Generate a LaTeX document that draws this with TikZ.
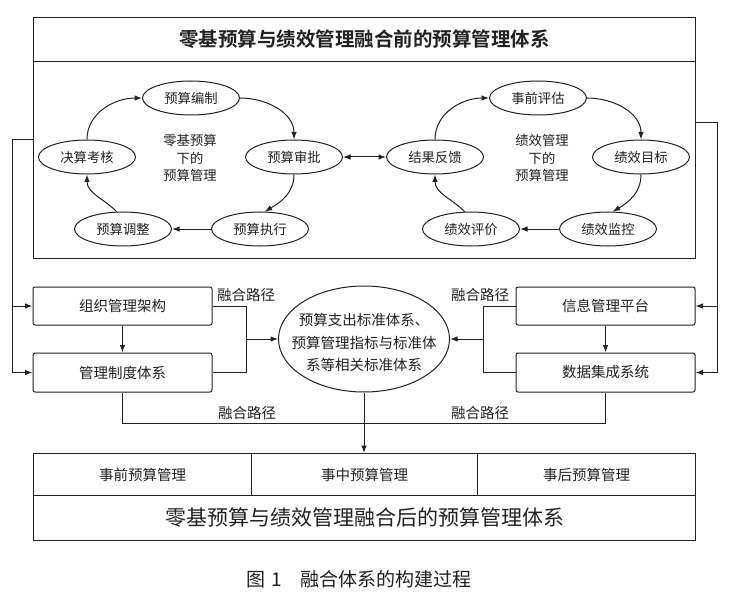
\documentclass[tikz,border=0pt]{standalone}
\usepackage{fontspec}
\setmainfont{Noto Sans CJK SC}[BoldFont={Noto Sans CJK SC Bold}]
\usetikzlibrary{shapes.geometric,arrows.meta,calc}
\definecolor{ink}{HTML}{222222}
\tikzset{
  x=1pt,y=-1pt,
  every node/.style={text=ink},
  ln/.style={draw=ink,line width=1pt},
  arr/.style={ln,-{Latex[length=7.5pt,width=5.5pt]}},
  darr/.style={ln,{Latex[length=7.5pt,width=5.5pt]}-{Latex[length=7.5pt,width=5.5pt]}},
  cyc/.style={ellipse,draw=ink,line width=1pt,minimum width=97pt,minimum height=34pt,inner sep=0pt,font=\fontsize{13.3}{16}\selectfont},
  mid/.style={align=center,font=\fontsize{13.3}{17.5}\selectfont},
  boxn/.style={draw=ink,line width=1pt,rounded corners=2pt,minimum width=179pt,minimum height=38pt,inner sep=0pt,font=\fontsize{14.5}{17}\selectfont},
  cell/.style={draw=ink,line width=1pt,minimum height=42pt,inner sep=0pt,anchor=north west,font=\fontsize{14.5}{17}\selectfont},
  lbl/.style={font=\fontsize{14.5}{17}\selectfont,inner sep=0pt},
}
\begin{document}
\begin{tikzpicture}
\useasboundingbox[fill=white] (0,0) rectangle (736,596);
% top frame
\node[draw=ink,line width=1pt,minimum width=662pt,minimum height=44pt,inner sep=0pt,anchor=north west,font=\fontsize{19.5}{22}\selectfont\bfseries] (toptitle) at (33,17) {零基预算与绩效管理融合前的预算管理体系};
\node[draw=ink,line width=1pt,minimum width=662pt,minimum height=197pt,inner sep=0pt,anchor=north west] (topbody) at (33,61) {};
% left cycle
\node[cyc] (bz) at (191,98) {预算编制};
\node[cyc] (sp) at (294,157) {预算审批};
\node[cyc] (zx) at (260,229) {预算执行};
\node[cyc] (tz) at (123,229) {预算调整};
\node[cyc] (kh) at (87,157) {决算考核};
\node[mid] (lc) at (190,158) {零基预算\\下的\\预算管理};
\draw[arr] (bz.east) to[out=0,in=90] (sp.north);
\draw[arr] (sp.south) to[out=-90,in=30] (zx.75);
\draw[arr] (zx.west) -- (tz.east);
\draw[arr] (tz.110) to[out=135,in=-90] (kh.south);
\draw[arr] (kh.north) to[out=90,in=180] (bz.west);
% right cycle
\node[cyc] (pg) at (538,98) {事前评估};
\node[cyc] (mb) at (641,157) {绩效目标};
\node[cyc] (jk) at (608,229) {绩效监控};
\node[cyc] (pj) at (471,229) {绩效评价};
\node[cyc] (fk) at (435,157) {结果反馈};
\node[mid] (rc) at (542,158) {绩效管理\\下的\\预算管理};
\draw[arr] (pg.east) to[out=0,in=90] (mb.north);
\draw[arr] (mb.south) to[out=-90,in=30] (jk.75);
\draw[arr] (jk.west) -- (pj.east);
\draw[arr] (pj.110) to[out=135,in=-90] (fk.south);
\draw[arr] (fk.north) to[out=90,in=180] (pg.west);
\draw[darr] (sp.east) -- (fk.west);
% middle boxes
\node[boxn] (zz) at (122.5,306) {组织管理架构};
\node[boxn,minimum height=39pt] (zd) at (122.5,372.5) {管理制度体系};
\node[boxn] (xx) at (605.5,306) {信息管理平台};
\node[boxn,minimum height=39pt] (sj) at (605.5,372.5) {数据集成系统};
\draw[arr] (zz.south) -- (zd.north);
\draw[arr] (xx.south) -- (sj.north);
\node[ellipse,draw=ink,line width=1pt,minimum width=171pt,minimum height=106pt,inner sep=0pt] (std) at (364,339) {};
\node[align=center,font=\fontsize{14.5}{22.5}\selectfont] (stdt) at (364,342.5) {预算支出标准体系、\\预算管理指标与标准体\\系等相关标准体系};
% left feed line
\coordinate (L1) at (12,140);
\draw[ln] (topbody.west |- L1) -- (L1) -- (L1 |- zd.west);
\draw[arr] (L1 |- zz.west) -- (zz.west);
\draw[arr] (L1 |- zd.west) -- (zd.west);
% right feed line
\coordinate (R1) at (717,123);
\draw[ln] (topbody.east |- R1) -- (R1) -- (R1 |- sj.east);
\draw[arr] (R1 |- xx.east) -- (xx.east);
\draw[arr] (R1 |- sj.east) -- (sj.east);
% brackets
\coordinate (BL) at (246,339);
\draw[ln] (zz.east) -- (zz.east -| BL) -- (zd.east -| BL) -- (zd.east);
\draw[arr] (BL) -- (BL -| std.west);
\coordinate (BR) at (483,339);
\draw[ln] (xx.west) -- (xx.west -| BR) -- (sj.west -| BR) -- (sj.west);
\draw[arr] (BR) -- (BR -| std.east);
\node[lbl] (l1) at (246,295) {融合路径};
\node[lbl] (l2) at (480,295) {融合路径};
% bottom
\node[cell,minimum width=218pt] (c1) at (33,453) {事前预算管理};
\node[cell,minimum width=226pt] (c2) at (251,453) {事中预算管理};
\node[cell,minimum width=218pt] (c3) at (477,453) {事后预算管理};
\node[draw=ink,line width=1pt,minimum width=662pt,minimum height=45pt,inner sep=0pt,anchor=north west,font=\fontsize{21}{24}\selectfont] (bt) at (33,495) {零基预算与绩效管理融合后的预算管理体系};
\coordinate (B) at (0,423);
\draw[ln] (zd.south) -- (zd.south |- B) -- (sj.south |- B) -- (sj.south);
\draw[arr] (std.south) -- (std.south |- c2.north);
\node[lbl] (l3) at (247,413) {融合路径};
\node[lbl] (l4) at (480,413) {融合路径};
\node[anchor=west,inner sep=0pt,font=\fontsize{19}{22}\selectfont] (cap) at (246,579) {图\hspace{6pt}1\hspace{19pt}融合体系的构建过程};
\end{tikzpicture}
\end{document}
